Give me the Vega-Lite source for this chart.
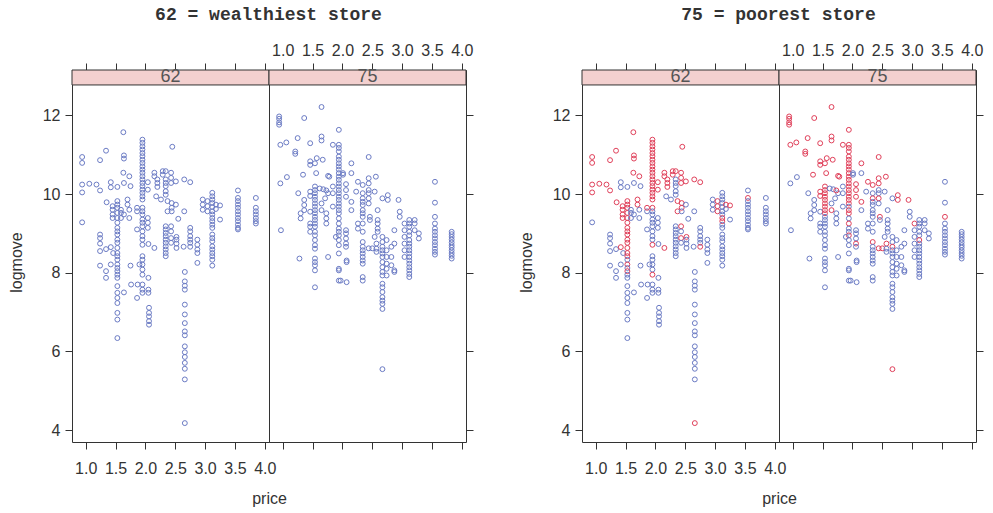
{
"$schema": "https://vega.github.io/schema/vega-lite/v6.json",
"background": "white",
"padding": {"left": 7, "top": 5, "right": 5, "bottom": 5},
"spacing": 43,
"config": {
  "view": {"stroke": "#333", "strokeWidth": 1},
  "axis": {"domain": false, "grid": false, "tickColor": "#333", "labelColor": "#333", "labelFont": "Liberation Sans", "labelFontSize": 16, "titleFont": "Liberation Sans", "titleFontSize": 16, "titleFontWeight": "normal", "titleColor": "#333", "tickSize": 7, "labelOverlap": false, "labelFlush": false, "labelPadding": 5},
  "title": {"font": "Liberation Mono", "fontSize": 18, "fontWeight": "bold", "color": "#333"}
},
"datasets": {"strip": [{"panel": "62"}, {"panel": "75"}], "oj": [
{"store":"62","price":0.94,"logmove":10.94,"feat":1},{"store":"62","price":0.94,"logmove":10.79,"feat":1},{"store":"62","price":0.94,"logmove":10.24,"feat":1},{"store":"62","price":0.94,"logmove":10.04,"feat":1},{"store":"62","price":0.94,"logmove":9.28,"feat":0},
{"store":"62","price":1.06,"logmove":10.26,"feat":1},{"store":"62","price":1.24,"logmove":10.86,"feat":1},{"store":"62","price":1.34,"logmove":11.10,"feat":1},{"store":"62","price":1.18,"logmove":10.24,"feat":1},{"store":"62","price":1.24,"logmove":10.09,"feat":1},
{"store":"62","price":1.24,"logmove":8.97,"feat":0},{"store":"62","price":1.24,"logmove":8.88,"feat":0},{"store":"62","price":1.24,"logmove":8.74,"feat":0},{"store":"62","price":1.24,"logmove":8.55,"feat":0},{"store":"62","price":1.24,"logmove":8.18,"feat":0},
{"store":"62","price":1.34,"logmove":8.60,"feat":0},{"store":"62","price":1.34,"logmove":8.04,"feat":0},{"store":"62","price":1.34,"logmove":7.87,"feat":0},{"store":"62","price":1.35,"logmove":9.79,"feat":1},
{"store":"62","price":1.42,"logmove":10.30,"feat":0},{"store":"62","price":1.42,"logmove":10.17,"feat":0},{"store":"62","price":1.42,"logmove":8.65,"feat":1},{"store":"62","price":1.42,"logmove":8.21,"feat":0},
{"store":"62","price":1.45,"logmove":9.69,"feat":1},{"store":"62","price":1.45,"logmove":9.60,"feat":1},{"store":"62","price":1.45,"logmove":9.48,"feat":1},{"store":"62","price":1.45,"logmove":9.39,"feat":1},{"store":"62","price":1.46,"logmove":8.50,"feat":0},
{"store":"62","price":1.53,"logmove":9.82,"feat":1},{"store":"62","price":1.53,"logmove":9.73,"feat":1},{"store":"62","price":1.53,"logmove":9.65,"feat":1},{"store":"62","price":1.53,"logmove":9.52,"feat":1},{"store":"62","price":1.53,"logmove":9.39,"feat":1},{"store":"62","price":1.53,"logmove":9.27,"feat":1},{"store":"62","price":1.53,"logmove":9.14,"feat":1},{"store":"62","price":1.53,"logmove":9.05,"feat":1},{"store":"62","price":1.53,"logmove":8.97,"feat":1},{"store":"62","price":1.53,"logmove":8.84,"feat":1},{"store":"62","price":1.53,"logmove":8.76,"feat":1},{"store":"62","price":1.53,"logmove":8.63,"feat":1},{"store":"62","price":1.53,"logmove":8.50,"feat":1},{"store":"62","price":1.53,"logmove":8.42,"feat":1},{"store":"62","price":1.53,"logmove":8.33,"feat":0},{"store":"62","price":1.53,"logmove":8.21,"feat":1},{"store":"62","price":1.53,"logmove":8.12,"feat":0},{"store":"62","price":1.53,"logmove":8.04,"feat":1},{"store":"62","price":1.53,"logmove":7.95,"feat":0},{"store":"62","price":1.53,"logmove":7.87,"feat":0},{"store":"62","price":1.53,"logmove":7.66,"feat":0},{"store":"62","price":1.53,"logmove":7.49,"feat":0},{"store":"62","price":1.53,"logmove":7.36,"feat":0},{"store":"62","price":1.53,"logmove":7.23,"feat":0},{"store":"62","price":1.53,"logmove":6.98,"feat":0},{"store":"62","price":1.53,"logmove":6.81,"feat":0},{"store":"62","price":1.53,"logmove":6.34,"feat":0},{"store":"62","price":1.53,"logmove":10.18,"feat":0},
{"store":"62","price":1.63,"logmove":11.57,"feat":1},{"store":"62","price":1.63,"logmove":10.54,"feat":1},{"store":"62","price":1.64,"logmove":10.98,"feat":1},{"store":"62","price":1.64,"logmove":10.90,"feat":1},{"store":"62","price":1.64,"logmove":10.28,"feat":0},{"store":"62","price":1.64,"logmove":9.48,"feat":0},{"store":"62","price":1.64,"logmove":7.50,"feat":0},
{"store":"62","price":1.73,"logmove":10.45,"feat":1},{"store":"62","price":1.73,"logmove":9.60,"feat":0},{"store":"62","price":1.73,"logmove":9.39,"feat":0},{"store":"62","price":1.75,"logmove":10.20,"feat":0},{"store":"62","price":1.75,"logmove":8.18,"feat":0},
{"store":"62","price":1.59,"logmove":9.60,"feat":0},{"store":"62","price":1.59,"logmove":9.52,"feat":0},{"store":"62","price":1.59,"logmove":9.39,"feat":0},{"store":"62","price":1.70,"logmove":9.86,"feat":1},{"store":"62","price":1.70,"logmove":9.73,"feat":1},{"store":"62","price":1.76,"logmove":7.70,"feat":0},
{"store":"62","price":1.86,"logmove":9.10,"feat":0},{"store":"62","price":1.86,"logmove":9.56,"feat":0},{"store":"62","price":1.86,"logmove":9.65,"feat":1},{"store":"62","price":1.86,"logmove":7.36,"feat":0},{"store":"62","price":1.87,"logmove":7.70,"feat":0},{"store":"62","price":1.90,"logmove":8.21,"feat":0},
{"store":"62","price":1.95,"logmove":11.38,"feat":1},{"store":"62","price":1.95,"logmove":11.30,"feat":1},{"store":"62","price":1.95,"logmove":11.21,"feat":1},{"store":"62","price":1.95,"logmove":11.13,"feat":1},{"store":"62","price":1.95,"logmove":11.04,"feat":1},{"store":"62","price":1.95,"logmove":10.96,"feat":1},{"store":"62","price":1.95,"logmove":10.87,"feat":1},{"store":"62","price":1.95,"logmove":10.79,"feat":1},{"store":"62","price":1.95,"logmove":10.70,"feat":1},{"store":"62","price":1.95,"logmove":10.62,"feat":1},{"store":"62","price":1.95,"logmove":10.54,"feat":1},{"store":"62","price":1.95,"logmove":10.45,"feat":1},{"store":"62","price":1.95,"logmove":10.37,"feat":1},{"store":"62","price":1.95,"logmove":10.28,"feat":1},{"store":"62","price":1.95,"logmove":10.20,"feat":1},{"store":"62","price":1.95,"logmove":10.11,"feat":1},{"store":"62","price":1.95,"logmove":10.03,"feat":1},{"store":"62","price":1.95,"logmove":9.94,"feat":1},{"store":"62","price":1.95,"logmove":9.86,"feat":1},{"store":"62","price":1.95,"logmove":9.65,"feat":1},{"store":"62","price":1.95,"logmove":9.56,"feat":0},{"store":"62","price":1.95,"logmove":9.48,"feat":0},{"store":"62","price":1.95,"logmove":9.35,"feat":0},{"store":"62","price":1.95,"logmove":9.27,"feat":0},{"store":"62","price":1.95,"logmove":9.18,"feat":0},{"store":"62","price":1.95,"logmove":9.05,"feat":0},{"store":"62","price":1.95,"logmove":8.93,"feat":0},{"store":"62","price":1.95,"logmove":8.84,"feat":0},{"store":"62","price":1.95,"logmove":8.71,"feat":1},{"store":"62","price":1.95,"logmove":8.42,"feat":0},{"store":"62","price":1.95,"logmove":8.33,"feat":0},{"store":"62","price":1.95,"logmove":8.21,"feat":0},{"store":"62","price":1.95,"logmove":8.08,"feat":0},{"store":"62","price":1.95,"logmove":7.95,"feat":1},{"store":"62","price":1.95,"logmove":7.70,"feat":0},{"store":"62","price":1.95,"logmove":7.57,"feat":0},{"store":"62","price":1.95,"logmove":7.49,"feat":0},
{"store":"62","price":2.04,"logmove":10.30,"feat":1},{"store":"62","price":2.04,"logmove":10.11,"feat":1},{"store":"62","price":2.04,"logmove":9.39,"feat":0},{"store":"62","price":2.04,"logmove":9.27,"feat":0},{"store":"62","price":2.04,"logmove":9.14,"feat":0},
{"store":"62","price":2.05,"logmove":7.87,"feat":0},{"store":"62","price":2.05,"logmove":7.57,"feat":0},{"store":"62","price":2.05,"logmove":7.49,"feat":0},{"store":"62","price":2.05,"logmove":8.73,"feat":0},
{"store":"62","price":2.06,"logmove":7.11,"feat":0},{"store":"62","price":2.06,"logmove":6.98,"feat":0},{"store":"62","price":2.06,"logmove":6.89,"feat":0},{"store":"62","price":2.06,"logmove":6.77,"feat":0},{"store":"62","price":2.06,"logmove":6.68,"feat":0},
{"store":"62","price":2.15,"logmove":8.63,"feat":1},{"store":"62","price":2.15,"logmove":10.54,"feat":1},{"store":"62","price":2.15,"logmove":10.45,"feat":1},{"store":"62","price":2.20,"logmove":10.37,"feat":1},{"store":"62","price":2.20,"logmove":10.28,"feat":1},{"store":"62","price":2.20,"logmove":10.18,"feat":1},
{"store":"62","price":2.18,"logmove":9.94,"feat":0},{"store":"62","price":2.26,"logmove":9.86,"feat":0},{"store":"62","price":2.29,"logmove":10.58,"feat":1},{"store":"62","price":2.29,"logmove":10.49,"feat":1},
{"store":"62","price":2.34,"logmove":10.58,"feat":1},{"store":"62","price":2.34,"logmove":10.37,"feat":0},{"store":"62","price":2.34,"logmove":10.28,"feat":0},{"store":"62","price":2.34,"logmove":10.20,"feat":0},{"store":"62","price":2.34,"logmove":10.07,"feat":0},{"store":"62","price":2.34,"logmove":9.98,"feat":0},{"store":"62","price":2.34,"logmove":9.18,"feat":0},{"store":"62","price":2.34,"logmove":9.10,"feat":0},{"store":"62","price":2.34,"logmove":9.01,"feat":0},{"store":"62","price":2.34,"logmove":8.93,"feat":0},{"store":"62","price":2.34,"logmove":8.84,"feat":0},{"store":"62","price":2.34,"logmove":8.76,"feat":0},{"store":"62","price":2.34,"logmove":8.67,"feat":0},{"store":"62","price":2.34,"logmove":8.59,"feat":0},{"store":"62","price":2.34,"logmove":8.50,"feat":0},{"store":"62","price":2.34,"logmove":8.42,"feat":0},
{"store":"62","price":2.37,"logmove":9.82,"feat":1},{"store":"62","price":2.37,"logmove":9.56,"feat":1},{"store":"62","price":2.43,"logmove":10.54,"feat":1},{"store":"62","price":2.43,"logmove":10.41,"feat":1},{"store":"62","price":2.43,"logmove":10.28,"feat":1},{"store":"62","price":2.43,"logmove":9.18,"feat":1},{"store":"62","price":2.43,"logmove":9.05,"feat":0},{"store":"62","price":2.43,"logmove":8.88,"feat":1},{"store":"62","price":2.43,"logmove":8.76,"feat":0},
{"store":"62","price":2.45,"logmove":11.20,"feat":1},{"store":"62","price":2.44,"logmove":9.77,"feat":1},{"store":"62","price":2.44,"logmove":9.65,"feat":1},{"store":"62","price":2.44,"logmove":9.56,"feat":0},
{"store":"62","price":2.51,"logmove":10.32,"feat":1},{"store":"62","price":2.51,"logmove":9.73,"feat":0},{"store":"62","price":2.55,"logmove":9.37,"feat":0},{"store":"62","price":2.65,"logmove":10.37,"feat":1},{"store":"62","price":2.65,"logmove":9.56,"feat":0},
{"store":"62","price":2.75,"logmove":10.30,"feat":1},{"store":"62","price":2.75,"logmove":9.14,"feat":0},{"store":"62","price":2.75,"logmove":9.05,"feat":0},{"store":"62","price":2.75,"logmove":8.93,"feat":0},{"store":"62","price":2.75,"logmove":8.84,"feat":0},{"store":"62","price":2.75,"logmove":8.76,"feat":0},{"store":"62","price":2.75,"logmove":8.66,"feat":1},
{"store":"62","price":2.52,"logmove":8.91,"feat":1},{"store":"62","price":2.52,"logmove":8.84,"feat":0},{"store":"62","price":2.52,"logmove":8.74,"feat":0},{"store":"62","price":2.52,"logmove":8.63,"feat":0},{"store":"62","price":2.64,"logmove":8.66,"feat":0},
{"store":"62","price":2.66,"logmove":8.02,"feat":0},{"store":"62","price":2.66,"logmove":7.78,"feat":0},{"store":"62","price":2.66,"logmove":7.67,"feat":0},{"store":"62","price":2.66,"logmove":7.57,"feat":0},{"store":"62","price":2.66,"logmove":7.19,"feat":0},{"store":"62","price":2.66,"logmove":6.94,"feat":0},{"store":"62","price":2.66,"logmove":6.72,"feat":0},{"store":"62","price":2.66,"logmove":6.51,"feat":0},{"store":"62","price":2.66,"logmove":6.41,"feat":0},{"store":"62","price":2.66,"logmove":6.13,"feat":0},{"store":"62","price":2.66,"logmove":5.98,"feat":0},{"store":"62","price":2.66,"logmove":5.86,"feat":0},{"store":"62","price":2.66,"logmove":5.71,"feat":0},{"store":"62","price":2.66,"logmove":5.56,"feat":0},{"store":"62","price":2.66,"logmove":5.29,"feat":0},{"store":"62","price":2.66,"logmove":4.18,"feat":1},
{"store":"62","price":2.87,"logmove":8.84,"feat":0},{"store":"62","price":2.87,"logmove":8.71,"feat":0},{"store":"62","price":2.87,"logmove":8.59,"feat":0},{"store":"62","price":2.87,"logmove":8.50,"feat":0},{"store":"62","price":2.87,"logmove":8.25,"feat":0},
{"store":"62","price":2.96,"logmove":9.86,"feat":0},{"store":"62","price":2.96,"logmove":9.73,"feat":0},{"store":"62","price":2.96,"logmove":9.60,"feat":0},{"store":"62","price":3.04,"logmove":9.82,"feat":1},{"store":"62","price":3.04,"logmove":9.69,"feat":1},{"store":"62","price":3.04,"logmove":9.56,"feat":1},
{"store":"62","price":3.12,"logmove":10.03,"feat":0},{"store":"62","price":3.12,"logmove":9.94,"feat":0},{"store":"62","price":3.12,"logmove":9.86,"feat":0},{"store":"62","price":3.12,"logmove":9.77,"feat":0},{"store":"62","price":3.12,"logmove":9.67,"feat":0},{"store":"62","price":3.12,"logmove":9.56,"feat":0},{"store":"62","price":3.12,"logmove":9.48,"feat":0},{"store":"62","price":3.12,"logmove":9.39,"feat":1},{"store":"62","price":3.12,"logmove":9.31,"feat":1},{"store":"62","price":3.12,"logmove":9.22,"feat":0},{"store":"62","price":3.12,"logmove":9.14,"feat":0},{"store":"62","price":3.12,"logmove":8.97,"feat":0},{"store":"62","price":3.12,"logmove":8.88,"feat":0},{"store":"62","price":3.12,"logmove":8.80,"feat":0},{"store":"62","price":3.12,"logmove":8.67,"feat":0},{"store":"62","price":3.12,"logmove":8.59,"feat":0},{"store":"62","price":3.12,"logmove":8.50,"feat":0},{"store":"62","price":3.12,"logmove":8.42,"feat":0},{"store":"62","price":3.12,"logmove":8.33,"feat":0},{"store":"62","price":3.12,"logmove":8.18,"feat":0},
{"store":"62","price":3.18,"logmove":9.73,"feat":1},{"store":"62","price":3.18,"logmove":9.62,"feat":0},{"store":"62","price":3.25,"logmove":9.71,"feat":1},{"store":"62","price":3.25,"logmove":9.35,"feat":0},
{"store":"62","price":3.55,"logmove":10.09,"feat":0},{"store":"62","price":3.55,"logmove":9.90,"feat":1},{"store":"62","price":3.55,"logmove":9.82,"feat":0},{"store":"62","price":3.55,"logmove":9.73,"feat":0},{"store":"62","price":3.55,"logmove":9.65,"feat":0},{"store":"62","price":3.55,"logmove":9.56,"feat":0},{"store":"62","price":3.55,"logmove":9.48,"feat":0},{"store":"62","price":3.55,"logmove":9.39,"feat":0},{"store":"62","price":3.55,"logmove":9.31,"feat":0},{"store":"62","price":3.55,"logmove":9.22,"feat":0},{"store":"62","price":3.55,"logmove":9.14,"feat":0},{"store":"62","price":3.55,"logmove":9.10,"feat":0},
{"store":"62","price":3.85,"logmove":9.90,"feat":0},{"store":"62","price":3.85,"logmove":9.65,"feat":0},{"store":"62","price":3.85,"logmove":9.56,"feat":0},{"store":"62","price":3.85,"logmove":9.48,"feat":0},{"store":"62","price":3.85,"logmove":9.39,"feat":0},{"store":"62","price":3.85,"logmove":9.31,"feat":0},{"store":"62","price":3.85,"logmove":9.25,"feat":0},
{"store":"75","price":0.94,"logmove":11.97,"feat":1},{"store":"75","price":0.94,"logmove":11.91,"feat":1},{"store":"75","price":0.94,"logmove":11.82,"feat":1},{"store":"75","price":0.94,"logmove":11.76,"feat":1},
{"store":"75","price":0.96,"logmove":11.25,"feat":1},{"store":"75","price":0.96,"logmove":10.27,"feat":0},{"store":"75","price":1.06,"logmove":11.31,"feat":1},{"store":"75","price":1.07,"logmove":10.43,"feat":0},{"store":"75","price":0.97,"logmove":9.08,"feat":0},
{"store":"75","price":1.36,"logmove":11.93,"feat":1},{"store":"75","price":1.36,"logmove":9.85,"feat":0},{"store":"75","price":1.36,"logmove":9.72,"feat":0},{"store":"75","price":1.36,"logmove":9.59,"feat":0},
{"store":"75","price":1.65,"logmove":12.21,"feat":1},{"store":"75","price":1.65,"logmove":11.46,"feat":1},{"store":"75","price":1.65,"logmove":11.36,"feat":1},{"store":"75","price":1.65,"logmove":9.76,"feat":0},{"store":"75","price":1.65,"logmove":9.59,"feat":1},
{"store":"75","price":1.25,"logmove":11.42,"feat":1},{"store":"75","price":1.46,"logmove":11.29,"feat":1},{"store":"75","price":1.46,"logmove":10.83,"feat":1},{"store":"75","price":1.46,"logmove":10.74,"feat":1},{"store":"75","price":1.46,"logmove":10.06,"feat":1},{"store":"75","price":1.46,"logmove":9.95,"feat":1},{"store":"75","price":1.46,"logmove":9.55,"feat":0},{"store":"75","price":1.46,"logmove":9.25,"feat":0},{"store":"75","price":1.46,"logmove":9.17,"feat":0},{"store":"75","price":1.46,"logmove":9.04,"feat":0},
{"store":"75","price":1.21,"logmove":11.08,"feat":1},{"store":"75","price":1.21,"logmove":11.02,"feat":1},
{"store":"75","price":1.94,"logmove":11.63,"feat":1},{"store":"75","price":1.94,"logmove":11.25,"feat":1},{"store":"75","price":1.94,"logmove":11.17,"feat":1},{"store":"75","price":1.94,"logmove":11.08,"feat":1},{"store":"75","price":1.94,"logmove":10.95,"feat":1},{"store":"75","price":1.94,"logmove":10.87,"feat":1},{"store":"75","price":1.94,"logmove":10.78,"feat":1},{"store":"75","price":1.94,"logmove":10.70,"feat":1},{"store":"75","price":1.94,"logmove":10.62,"feat":1},{"store":"75","price":1.94,"logmove":10.53,"feat":1},{"store":"75","price":1.94,"logmove":10.44,"feat":1},{"store":"75","price":1.94,"logmove":10.36,"feat":1},{"store":"75","price":1.94,"logmove":10.27,"feat":1},{"store":"75","price":1.94,"logmove":10.19,"feat":1},{"store":"75","price":1.94,"logmove":10.10,"feat":1},{"store":"75","price":1.94,"logmove":10.02,"feat":1},{"store":"75","price":1.94,"logmove":9.93,"feat":1},{"store":"75","price":1.94,"logmove":9.85,"feat":1},{"store":"75","price":1.94,"logmove":9.76,"feat":1},{"store":"75","price":1.94,"logmove":9.68,"feat":0},{"store":"75","price":1.94,"logmove":9.59,"feat":1},{"store":"75","price":1.94,"logmove":9.51,"feat":1},
{"store":"75","price":1.94,"logmove":9.38,"feat":0},{"store":"75","price":1.94,"logmove":9.25,"feat":1},{"store":"75","price":1.94,"logmove":9.12,"feat":0},{"store":"75","price":1.94,"logmove":9.04,"feat":0},{"store":"75","price":1.94,"logmove":8.95,"feat":1},{"store":"75","price":1.94,"logmove":8.83,"feat":0},{"store":"75","price":1.94,"logmove":8.70,"feat":0},{"store":"75","price":1.94,"logmove":8.49,"feat":0},{"store":"75","price":1.94,"logmove":8.10,"feat":0},{"store":"75","price":1.94,"logmove":8.06,"feat":0},{"store":"75","price":1.94,"logmove":7.80,"feat":0},
{"store":"75","price":1.84,"logmove":11.25,"feat":1},{"store":"75","price":1.84,"logmove":10.19,"feat":0},{"store":"75","price":1.84,"logmove":10.02,"feat":0},{"store":"75","price":1.84,"logmove":9.68,"feat":0},
{"store":"75","price":1.54,"logmove":10.78,"feat":1},{"store":"75","price":1.54,"logmove":10.19,"feat":1},{"store":"75","price":1.54,"logmove":10.10,"feat":1},{"store":"75","price":1.54,"logmove":10.02,"feat":1},{"store":"75","price":1.54,"logmove":9.93,"feat":1},{"store":"75","price":1.54,"logmove":9.85,"feat":1},{"store":"75","price":1.54,"logmove":9.76,"feat":1},{"store":"75","price":1.54,"logmove":9.68,"feat":1},{"store":"75","price":1.54,"logmove":9.59,"feat":1},{"store":"75","price":1.54,"logmove":9.51,"feat":1},{"store":"75","price":1.54,"logmove":9.42,"feat":0},{"store":"75","price":1.54,"logmove":9.34,"feat":0},{"store":"75","price":1.54,"logmove":9.25,"feat":0},{"store":"75","price":1.54,"logmove":9.17,"feat":0},{"store":"75","price":1.54,"logmove":9.04,"feat":0},{"store":"75","price":1.54,"logmove":8.95,"feat":0},{"store":"75","price":1.54,"logmove":8.83,"feat":0},{"store":"75","price":1.54,"logmove":8.70,"feat":0},{"store":"75","price":1.54,"logmove":8.61,"feat":0},{"store":"75","price":1.54,"logmove":8.36,"feat":0},{"store":"75","price":1.54,"logmove":8.27,"feat":0},{"store":"75","price":1.54,"logmove":8.19,"feat":0},{"store":"75","price":1.54,"logmove":8.06,"feat":0},{"store":"75","price":1.54,"logmove":7.63,"feat":0},
{"store":"75","price":1.57,"logmove":10.91,"feat":1},{"store":"75","price":1.67,"logmove":10.87,"feat":1},{"store":"75","price":1.34,"logmove":10.49,"feat":1},{"store":"75","price":1.56,"logmove":10.53,"feat":1},{"store":"75","price":1.76,"logmove":10.46,"feat":1},{"store":"75","price":1.78,"logmove":10.44,"feat":1},
{"store":"75","price":1.76,"logmove":10.02,"feat":0},{"store":"75","price":1.76,"logmove":8.40,"feat":0},{"store":"75","price":1.26,"logmove":10.02,"feat":0},{"store":"75","price":1.30,"logmove":9.51,"feat":0},{"store":"75","price":1.30,"logmove":9.38,"feat":0},
{"store":"75","price":1.62,"logmove":10.14,"feat":0},{"store":"75","price":1.68,"logmove":10.12,"feat":0},{"store":"75","price":1.73,"logmove":10.09,"feat":1},{"store":"75","price":1.73,"logmove":9.51,"feat":0},{"store":"75","price":1.73,"logmove":9.38,"feat":0},{"store":"75","price":1.73,"logmove":9.25,"feat":0},{"store":"75","price":1.71,"logmove":9.89,"feat":0},
{"store":"75","price":1.28,"logmove":8.36,"feat":0},{"store":"75","price":1.89,"logmove":8.91,"feat":0},
{"store":"75","price":2.01,"logmove":10.53,"feat":0},{"store":"75","price":2.01,"logmove":10.49,"feat":0},{"store":"75","price":2.15,"logmove":10.78,"feat":1},{"store":"75","price":2.15,"logmove":10.53,"feat":0},{"store":"75","price":2.15,"logmove":9.80,"feat":1},{"store":"75","price":2.15,"logmove":9.59,"feat":0},
{"store":"75","price":2.06,"logmove":10.25,"feat":1},{"store":"75","price":2.06,"logmove":10.10,"feat":1},{"store":"75","price":2.06,"logmove":9.93,"feat":1},{"store":"75","price":2.06,"logmove":9.08,"feat":0},{"store":"75","price":2.06,"logmove":9.00,"feat":0},{"store":"75","price":2.06,"logmove":8.87,"feat":0},{"store":"75","price":2.06,"logmove":8.74,"feat":1},{"store":"75","price":2.06,"logmove":8.66,"feat":0},
{"store":"75","price":2.07,"logmove":8.31,"feat":0},{"store":"75","price":2.07,"logmove":8.27,"feat":0},{"store":"75","price":2.07,"logmove":7.76,"feat":0},{"store":"75","price":1.97,"logmove":7.80,"feat":0},
{"store":"75","price":2.26,"logmove":10.31,"feat":1},{"store":"75","price":2.26,"logmove":9.25,"feat":0},{"store":"75","price":2.26,"logmove":9.12,"feat":0},{"store":"75","price":2.23,"logmove":10.06,"feat":0},
{"store":"75","price":2.34,"logmove":10.23,"feat":1},{"store":"75","price":2.34,"logmove":10.02,"feat":0},{"store":"75","price":2.34,"logmove":9.89,"feat":1},{"store":"75","price":2.34,"logmove":9.80,"feat":0},{"store":"75","price":2.34,"logmove":9.72,"feat":0},{"store":"75","price":2.34,"logmove":9.59,"feat":0},{"store":"75","price":2.34,"logmove":9.51,"feat":0},{"store":"75","price":2.34,"logmove":9.42,"feat":0},{"store":"75","price":2.34,"logmove":9.25,"feat":0},{"store":"75","price":2.34,"logmove":9.04,"feat":0},{"store":"75","price":2.34,"logmove":8.78,"feat":1},{"store":"75","price":2.34,"logmove":8.66,"feat":0},{"store":"75","price":2.34,"logmove":8.57,"feat":0},{"store":"75","price":2.34,"logmove":8.49,"feat":0},{"store":"75","price":2.34,"logmove":8.40,"feat":0},{"store":"75","price":2.34,"logmove":8.31,"feat":0},{"store":"75","price":2.34,"logmove":8.23,"feat":0},{"store":"75","price":2.34,"logmove":7.89,"feat":0},{"store":"75","price":2.34,"logmove":7.80,"feat":0},
{"store":"75","price":2.44,"logmove":10.94,"feat":1},{"store":"75","price":2.44,"logmove":10.40,"feat":1},{"store":"75","price":2.44,"logmove":10.27,"feat":1},{"store":"75","price":2.44,"logmove":10.10,"feat":0},{"store":"75","price":2.44,"logmove":10.02,"feat":0},{"store":"75","price":2.44,"logmove":9.89,"feat":1},{"store":"75","price":2.44,"logmove":9.76,"feat":0},{"store":"75","price":2.46,"logmove":9.42,"feat":1},{"store":"75","price":2.46,"logmove":9.34,"feat":0},{"store":"75","price":2.44,"logmove":8.62,"feat":1},{"store":"75","price":2.50,"logmove":8.62,"feat":1},
{"store":"75","price":2.56,"logmove":10.44,"feat":1},{"store":"75","price":2.54,"logmove":10.06,"feat":0},{"store":"75","price":2.54,"logmove":8.91,"feat":0},
{"store":"75","price":2.59,"logmove":9.59,"feat":0},{"store":"75","price":2.59,"logmove":9.34,"feat":0},{"store":"75","price":2.59,"logmove":9.25,"feat":0},{"store":"75","price":2.59,"logmove":9.12,"feat":0},{"store":"75","price":2.59,"logmove":9.04,"feat":0},
{"store":"75","price":2.76,"logmove":9.97,"feat":1},{"store":"75","price":2.76,"logmove":9.85,"feat":1},{"store":"75","price":2.67,"logmove":9.89,"feat":0},
{"store":"75","price":2.57,"logmove":8.74,"feat":1},{"store":"75","price":2.57,"logmove":8.61,"feat":0},{"store":"75","price":2.57,"logmove":8.53,"feat":0},
{"store":"75","price":2.67,"logmove":8.91,"feat":0},{"store":"75","price":2.67,"logmove":8.78,"feat":0},{"store":"75","price":2.67,"logmove":8.66,"feat":1},{"store":"75","price":2.67,"logmove":8.57,"feat":0},{"store":"75","price":2.67,"logmove":8.49,"feat":0},{"store":"75","price":2.67,"logmove":8.40,"feat":0},{"store":"75","price":2.67,"logmove":8.27,"feat":0},{"store":"75","price":2.67,"logmove":8.14,"feat":0},{"store":"75","price":2.67,"logmove":8.02,"feat":0},{"store":"75","price":2.67,"logmove":7.93,"feat":0},{"store":"75","price":2.67,"logmove":7.72,"feat":0},{"store":"75","price":2.67,"logmove":7.63,"feat":0},{"store":"75","price":2.67,"logmove":7.51,"feat":0},{"store":"75","price":2.67,"logmove":7.38,"feat":0},{"store":"75","price":2.67,"logmove":7.29,"feat":0},{"store":"75","price":2.67,"logmove":7.21,"feat":0},{"store":"75","price":2.67,"logmove":7.08,"feat":0},{"store":"75","price":2.67,"logmove":5.55,"feat":1},
{"store":"75","price":2.74,"logmove":8.83,"feat":0},{"store":"75","price":2.74,"logmove":8.57,"feat":0},{"store":"75","price":2.74,"logmove":8.40,"feat":0},{"store":"75","price":2.74,"logmove":8.23,"feat":0},{"store":"75","price":2.74,"logmove":8.10,"feat":0},{"store":"75","price":2.74,"logmove":7.93,"feat":0},
{"store":"75","price":2.82,"logmove":8.66,"feat":0},{"store":"75","price":2.82,"logmove":8.40,"feat":0},{"store":"75","price":2.82,"logmove":8.19,"feat":0},
{"store":"75","price":2.87,"logmove":9.08,"feat":0},{"store":"75","price":2.87,"logmove":8.74,"feat":0},{"store":"75","price":2.87,"logmove":8.06,"feat":0},{"store":"75","price":2.87,"logmove":8.02,"feat":0},
{"store":"75","price":2.94,"logmove":9.85,"feat":1},{"store":"75","price":2.96,"logmove":9.55,"feat":0},{"store":"75","price":2.96,"logmove":9.42,"feat":0},
{"store":"75","price":3.04,"logmove":9.25,"feat":1},{"store":"75","price":3.04,"logmove":9.08,"feat":0},{"store":"75","price":3.04,"logmove":8.91,"feat":0},{"store":"75","price":3.04,"logmove":8.74,"feat":0},{"store":"75","price":3.04,"logmove":8.57,"feat":0},{"store":"75","price":3.04,"logmove":8.40,"feat":0},
{"store":"75","price":3.12,"logmove":9.34,"feat":0},{"store":"75","price":3.12,"logmove":9.25,"feat":0},{"store":"75","price":3.12,"logmove":9.17,"feat":0},{"store":"75","price":3.12,"logmove":9.04,"feat":0},{"store":"75","price":3.12,"logmove":8.95,"feat":0},{"store":"75","price":3.12,"logmove":8.83,"feat":1},{"store":"75","price":3.12,"logmove":8.74,"feat":0},{"store":"75","price":3.12,"logmove":8.66,"feat":0},{"store":"75","price":3.12,"logmove":8.57,"feat":0},{"store":"75","price":3.12,"logmove":8.49,"feat":0},{"store":"75","price":3.12,"logmove":8.40,"feat":0},{"store":"75","price":3.12,"logmove":8.31,"feat":0},{"store":"75","price":3.12,"logmove":8.23,"feat":0},{"store":"75","price":3.12,"logmove":8.14,"feat":0},{"store":"75","price":3.12,"logmove":8.06,"feat":0},{"store":"75","price":3.12,"logmove":7.97,"feat":0},{"store":"75","price":3.12,"logmove":7.89,"feat":0},
{"store":"75","price":3.21,"logmove":9.34,"feat":0},{"store":"75","price":3.21,"logmove":9.25,"feat":0},{"store":"75","price":3.21,"logmove":9.08,"feat":0},{"store":"75","price":3.28,"logmove":9.00,"feat":0},{"store":"75","price":3.28,"logmove":8.87,"feat":0},
{"store":"75","price":3.55,"logmove":10.31,"feat":0},{"store":"75","price":3.55,"logmove":9.78,"feat":0},{"store":"75","price":3.55,"logmove":9.42,"feat":1},{"store":"75","price":3.55,"logmove":9.25,"feat":0},{"store":"75","price":3.55,"logmove":9.12,"feat":0},{"store":"75","price":3.55,"logmove":9.04,"feat":0},{"store":"75","price":3.55,"logmove":8.95,"feat":0},{"store":"75","price":3.55,"logmove":8.87,"feat":0},{"store":"75","price":3.55,"logmove":8.78,"feat":0},{"store":"75","price":3.55,"logmove":8.70,"feat":0},{"store":"75","price":3.55,"logmove":8.61,"feat":0},{"store":"75","price":3.55,"logmove":8.53,"feat":0},{"store":"75","price":3.55,"logmove":8.46,"feat":0},
{"store":"75","price":3.83,"logmove":9.04,"feat":0},{"store":"75","price":3.83,"logmove":8.98,"feat":0},{"store":"75","price":3.83,"logmove":8.91,"feat":0},{"store":"75","price":3.83,"logmove":8.84,"feat":0},{"store":"75","price":3.83,"logmove":8.77,"feat":0},{"store":"75","price":3.83,"logmove":8.70,"feat":0},{"store":"75","price":3.83,"logmove":8.64,"feat":0},{"store":"75","price":3.83,"logmove":8.57,"feat":0},{"store":"75","price":3.83,"logmove":8.50,"feat":0},{"store":"75","price":3.83,"logmove":8.43,"feat":0},{"store":"75","price":3.83,"logmove":8.36,"feat":0}
]},
"hconcat": [
 {"bounds": "flush", "spacing": 0, "hconcat": [
  {"width": 197, "height": 372,
   "layer": [
    {"data": {"name": "oj"}, "transform": [{"filter": "datum.store == '62'"}],
     "mark": {"type": "point", "shape": "circle", "filled": false, "size": 24, "strokeWidth": 1, "opacity": 1},
     "encoding": {
      "x": {"field": "price", "type": "quantitative", "scale": {"domain": [0.77, 4.07], "nice": false, "zero": false}, "axis": {"orient": "bottom", "values": [1, 1.5, 2, 2.5, 3, 3.5, 4], "format": ".1f", "labelPadding": 11, "title": "price", "titleAnchor": "end", "titleAlign": "center", "titlePadding": 14}},
      "y": {"field": "logmove", "type": "quantitative", "scale": {"domain": [3.70, 13.15], "nice": false, "zero": false}, "axis": {"orient": "left", "values": [4, 6, 8, 10, 12], "title": "logmove", "titleY": 192, "titlePadding": 18}},
      "color": {"value": "#6b7bc4"}}},
    {"data": {"name": "strip"}, "transform": [{"filter": "datum.panel == '62'"}],
     "mark": {"type": "rect", "fill": "#f3d0cf", "stroke": "#333", "strokeWidth": 1},
     "encoding": {"x": {"datum": 0.77, "type": "quantitative", "axis": {"orient": "top", "values": [1, 1.5, 2, 2.5, 3, 3.5, 4], "labels": false, "title": null}}, "x2": {"datum": 4.07}, "y": {"datum": 12.77, "type": "quantitative", "axis": null}, "y2": {"datum": 13.15}}},
    {"data": {"name": "strip"}, "transform": [{"filter": "datum.panel == '62'"}],
     "mark": {"type": "text", "fontSize": 18, "font": "Liberation Sans", "color": "#555", "baseline": "middle", "align": "center"},
     "encoding": {"x": {"datum": 2.42, "type": "quantitative", "axis": null}, "y": {"datum": 12.96, "type": "quantitative", "axis": null}, "text": {"field": "panel"}}}
   ],
   "resolve": {"axis": {"x": "independent", "y": "independent"}}},
  {"width": 197, "height": 372,
   "title": {"text": "62 = wealthiest store", "anchor": "start", "align": "center", "offset": 18},
   "layer": [
    {"data": {"name": "oj"}, "transform": [{"filter": "datum.store == '75'"}],
     "mark": {"type": "point", "shape": "circle", "filled": false, "size": 24, "strokeWidth": 1, "opacity": 1},
     "encoding": {
      "x": {"field": "price", "type": "quantitative", "scale": {"domain": [0.77, 4.07], "nice": false, "zero": false}, "axis": {"orient": "bottom", "values": [1, 1.5, 2, 2.5, 3, 3.5, 4], "labels": false, "title": null}},
      "y": {"field": "logmove", "type": "quantitative", "scale": {"domain": [3.70, 13.15], "nice": false, "zero": false}, "axis": {"orient": "right", "values": [4, 6, 8, 10, 12], "labels": false, "title": null}},
      "color": {"value": "#6b7bc4"}}},
    {"data": {"name": "strip"}, "transform": [{"filter": "datum.panel == '75'"}],
     "mark": {"type": "rect", "fill": "#f3d0cf", "stroke": "#333", "strokeWidth": 1},
     "encoding": {"x": {"datum": 0.77, "type": "quantitative", "axis": {"orient": "top", "values": [1, 1.5, 2, 2.5, 3, 3.5, 4], "format": ".1f", "title": null}}, "x2": {"datum": 4.07}, "y": {"datum": 12.77, "type": "quantitative", "axis": null}, "y2": {"datum": 13.15}}},
    {"data": {"name": "strip"}, "transform": [{"filter": "datum.panel == '75'"}],
     "mark": {"type": "text", "fontSize": 18, "font": "Liberation Sans", "color": "#555", "baseline": "middle", "align": "center"},
     "encoding": {"x": {"datum": 2.42, "type": "quantitative", "axis": null}, "y": {"datum": 12.96, "type": "quantitative", "axis": null}, "text": {"field": "panel"}}}
   ],
   "resolve": {"axis": {"x": "independent", "y": "independent"}}}
 ]},
 {"bounds": "flush", "spacing": 0, "hconcat": [
  {"width": 197, "height": 372,
   "layer": [
    {"data": {"name": "oj"}, "transform": [{"filter": "datum.store == '62'"}],
     "mark": {"type": "point", "shape": "circle", "filled": false, "size": 24, "strokeWidth": 1, "opacity": 1},
     "encoding": {
      "x": {"field": "price", "type": "quantitative", "scale": {"domain": [0.77, 4.07], "nice": false, "zero": false}, "axis": {"orient": "bottom", "values": [1, 1.5, 2, 2.5, 3, 3.5, 4], "format": ".1f", "labelPadding": 11, "title": "price", "titleAnchor": "end", "titleAlign": "center", "titlePadding": 14}},
      "y": {"field": "logmove", "type": "quantitative", "scale": {"domain": [3.70, 13.15], "nice": false, "zero": false}, "axis": {"orient": "left", "values": [4, 6, 8, 10, 12], "title": "logmove", "titleY": 192, "titlePadding": 18}},
      "color": {"field": "feat", "type": "nominal", "scale": {"domain": [0, 1], "range": ["#6b7bc4", "#e0405a"]}, "legend": null}}},
    {"data": {"name": "strip"}, "transform": [{"filter": "datum.panel == '62'"}],
     "mark": {"type": "rect", "fill": "#f3d0cf", "stroke": "#333", "strokeWidth": 1},
     "encoding": {"x": {"datum": 0.77, "type": "quantitative", "axis": {"orient": "top", "values": [1, 1.5, 2, 2.5, 3, 3.5, 4], "labels": false, "title": null}}, "x2": {"datum": 4.07}, "y": {"datum": 12.77, "type": "quantitative", "axis": null}, "y2": {"datum": 13.15}}},
    {"data": {"name": "strip"}, "transform": [{"filter": "datum.panel == '62'"}],
     "mark": {"type": "text", "fontSize": 18, "font": "Liberation Sans", "color": "#555", "baseline": "middle", "align": "center"},
     "encoding": {"x": {"datum": 2.42, "type": "quantitative", "axis": null}, "y": {"datum": 12.96, "type": "quantitative", "axis": null}, "text": {"field": "panel"}}}
   ],
   "resolve": {"axis": {"x": "independent", "y": "independent"}}},
  {"width": 197, "height": 372,
   "title": {"text": "75 = poorest store", "anchor": "start", "align": "center", "offset": 18},
   "layer": [
    {"data": {"name": "oj"}, "transform": [{"filter": "datum.store == '75'"}],
     "mark": {"type": "point", "shape": "circle", "filled": false, "size": 24, "strokeWidth": 1, "opacity": 1},
     "encoding": {
      "x": {"field": "price", "type": "quantitative", "scale": {"domain": [0.77, 4.07], "nice": false, "zero": false}, "axis": {"orient": "bottom", "values": [1, 1.5, 2, 2.5, 3, 3.5, 4], "labels": false, "title": null}},
      "y": {"field": "logmove", "type": "quantitative", "scale": {"domain": [3.70, 13.15], "nice": false, "zero": false}, "axis": {"orient": "right", "values": [4, 6, 8, 10, 12], "labels": false, "title": null}},
      "color": {"field": "feat", "type": "nominal", "scale": {"domain": [0, 1], "range": ["#6b7bc4", "#e0405a"]}, "legend": null}}},
    {"data": {"name": "strip"}, "transform": [{"filter": "datum.panel == '75'"}],
     "mark": {"type": "rect", "fill": "#f3d0cf", "stroke": "#333", "strokeWidth": 1},
     "encoding": {"x": {"datum": 0.77, "type": "quantitative", "axis": {"orient": "top", "values": [1, 1.5, 2, 2.5, 3, 3.5, 4], "format": ".1f", "title": null}}, "x2": {"datum": 4.07}, "y": {"datum": 12.77, "type": "quantitative", "axis": null}, "y2": {"datum": 13.15}}},
    {"data": {"name": "strip"}, "transform": [{"filter": "datum.panel == '75'"}],
     "mark": {"type": "text", "fontSize": 18, "font": "Liberation Sans", "color": "#555", "baseline": "middle", "align": "center"},
     "encoding": {"x": {"datum": 2.42, "type": "quantitative", "axis": null}, "y": {"datum": 12.96, "type": "quantitative", "axis": null}, "text": {"field": "panel"}}}
   ],
   "resolve": {"axis": {"x": "independent", "y": "independent"}}}
 ]}
]
}
